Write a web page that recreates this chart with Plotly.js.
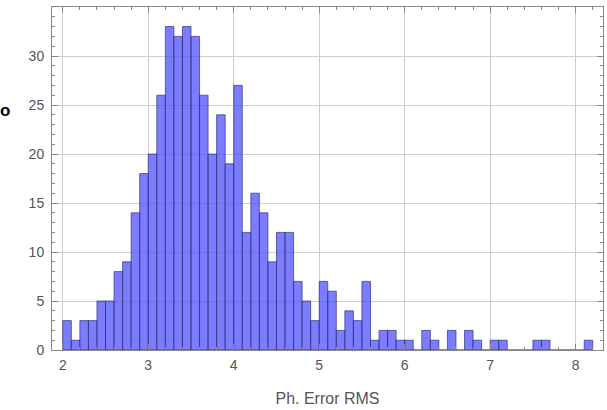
<!DOCTYPE html>
<html>
<head>
<meta charset="utf-8">
<script src="https://cdn.plot.ly/plotly-3.0.1.min.js"></script>
<style>html,body{margin:0;padding:0;background:#fff;}#chart{width:607px;height:410px;}</style>
</head>
<body>
<div id="chart"></div>
<script>
// Histogram bins (left edges, width 0.1) and counts
const binLefts = [2.0,2.1,2.2,2.3,2.4,2.5,2.6,2.7,2.8,2.9,
  3.0,3.1,3.2,3.3,3.4,3.5,3.6,3.7,3.8,3.9,
  4.0,4.1,4.2,4.3,4.4,4.5,4.6,4.7,4.8,4.9,
  5.0,5.1,5.2,5.3,5.4,5.5,5.6,5.7,5.8,5.9,
  6.0,6.1,6.2,6.3,6.4,6.5,6.6,6.7,6.8,6.9,
  7.0,7.1,7.2,7.3,7.4,7.5,7.6,7.7,7.8,7.9,
  8.0,8.1];
const counts = [3,1,3,3,5,5,8,9,14,18,
  20,26,33,32,33,32,26,20,24,19,
  27,12,16,14,9,12,12,7,5,3,
  7,6,2,4,3,7,1,2,2,1,
  1,0,2,1,0,2,0,2,1,0,
  1,1,0,0,0,1,1,0,0,0,
  0,1];
const binWidth = 0.1;
const xTickVals = [2,3,4,5,6,7,8];
const yTickVals = [0,5,10,15,20,25,30];
const xTitle = "Ph. Error RMS";

const trace = {
  type: 'bar',
  x: binLefts,
  y: counts,
  width: binWidth,
  offset: 0,
  marker: {color: 'rgba(80,80,255,0.75)', line: {color: 'rgba(40,40,110,0.65)', width: 1}},
  hoverinfo: 'x+y'
};

const fam = 'Liberation Sans, Arial, sans-serif';
const tickFont = {family: fam, size: 14, color: '#555'};
const layout = {
  width: 607, height: 410,
  margin: {l: 52, r: 4, t: 7, b: 60},
  paper_bgcolor: '#fff', plot_bgcolor: '#fff',
  showlegend: false,
  bargap: 0,
  xaxis: {
    range: [1.874, 8.32],
    tickvals: xTickVals,
    ticks: 'inside', ticklen: 6, tickcolor: '#888', tickwidth: 1,
    minor: {dtick: 0.2, tick0: 2, ticks: 'inside', ticklen: 3, tickcolor: '#888', showgrid: false},
    showgrid: true, gridcolor: '#cdcdcd', gridwidth: 1,
    showline: true, linecolor: '#888', linewidth: 1, mirror: 'ticks',
    zeroline: false,
    tickfont: tickFont,
    ticklabelstandoff: 2,
    title: {text: xTitle, font: {family: fam, size: 16, color: '#555'}, standoff: 21}
  },
  yaxis: {
    range: [0, 35],
    tickvals: yTickVals,
    ticks: 'inside', ticklen: 6, tickcolor: '#888', tickwidth: 1,
    minor: {dtick: 1, tick0: 0, ticks: 'inside', ticklen: 3, tickcolor: '#888', showgrid: false},
    showgrid: true, gridcolor: '#cdcdcd', gridwidth: 1,
    showline: true, linecolor: '#888', linewidth: 1, mirror: 'ticks',
    zeroline: false,
    tickfont: tickFont,
    ticklabelstandoff: 4
  },
  annotations: [{
    text: '<b>o</b>', xref: 'paper', yref: 'paper', x: -0.085, y: 0.697,
    showarrow: false, xanchor: 'center', yanchor: 'middle',
    font: {family: fam, size: 17, color: '#000'}
  }]
};

Plotly.newPlot('chart', [trace], layout, {displayModeBar: false, staticPlot: true});
</script>
</body>
</html>
